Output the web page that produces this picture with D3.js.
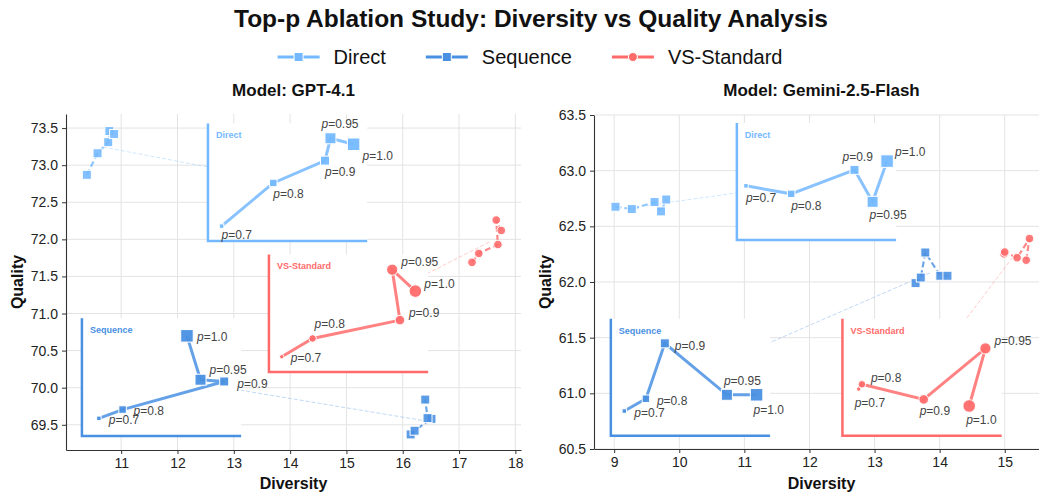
<!DOCTYPE html>
<html>
<head>
<meta charset="utf-8">
<script src="https://cdn.jsdelivr.net/npm/d3@7"></script>
<style>
body { margin: 0; background: #fff; }
text { font-family: "Liberation Sans", Arial, sans-serif; }
</style>
</head>
<body>
<div id="chart"></div>
<script>
// top-p values and their labels
var pValues = [0.7, 0.8, 0.9, 0.95, 1.0];
var pLabels = ["0.7", "0.8", "0.9", "0.95", "1.0"];

var methodNames = ["Direct", "Sequence", "VS-Standard"];
var methodColors = ["#74b9ff", "#4a90e2", "#ff6b6b"];
var methodShapes = ["square", "square", "circle"];

// GPT-4.1 (diversity, quality) per p
var gptDirectX = [10.39, 10.58, 10.77, 10.79, 10.875];
var gptDirectY = [72.87, 73.16, 73.31, 73.46, 73.42];
var gptSequenceX = [16.14, 16.21, 16.51, 16.44, 16.40];
var gptSequenceY = [69.37, 69.42, 69.58, 69.59, 69.84];
var gptVsX = [17.23, 17.35, 17.69, 17.66, 17.75];
var gptVsY = [71.69, 71.81, 71.93, 72.26, 72.12];

// Gemini-2.5-Flash
var gemDirectX = [9.02, 9.27, 9.62, 9.72, 9.80];
var gemDirectY = [62.676, 62.655, 62.718, 62.634, 62.741];
var gemSequenceX = [13.63, 13.71, 13.78, 14.01, 14.12];
var gemSequenceY = [61.99, 62.04, 62.265, 62.056, 62.056];
var gemVsX = [14.99, 15.00, 15.19, 15.38, 15.33];
var gemVsY = [62.253, 62.269, 62.218, 62.39, 62.196];

var gptXTicks = [11, 12, 13, 14, 15, 16, 17, 18];
var gptYTicks = [69.5, 70.0, 70.5, 71.0, 71.5, 72.0, 72.5, 73.0, 73.5];
var gemXTicks = [9, 10, 11, 12, 13, 14, 15];
var gemYTicks = [60.5, 61.0, 61.5, 62.0, 62.5, 63.0, 63.5];

var svg = d3.select("#chart").append("svg")
    .attr("width", 1039)
    .attr("height", 495);

// size of markers in the zoomed insets grows with p
var insetSquare = [4.5, 7.5, 9, 11, 12.5];
var insetRadius = [2.2, 3.8, 4.8, 5.6, 6.3];

var panels = [
    {
        title: "Model: GPT-4.1",
        left: 66, top: 114, width: 455, height: 336,
        xDomain: [10.02, 18.1], yDomain: [69.16, 73.69],
        xTicks: gptXTicks, yTicks: gptYTicks,
        series: [[gptDirectX, gptDirectY], [gptSequenceX, gptSequenceY], [gptVsX, gptVsY]],
        insetPos: [[0.312, 0.622], [0.035, 0.042], [0.446, 0.232]],
        labelOffsets: [
            [[0, 13], [0, 15], [0, 15], [-9, -10], [9, 16]],
            [[10, 6], [11, 5], [13, 7], [9, -6], [10, 5]],
            [[9, 5], [2, -10], [9, -3], [9, -4], [9, -3]]
        ]
    },
    {
        title: "Model: Gemini-2.5-Flash",
        left: 594, top: 115, width: 455, height: 334,
        xDomain: [8.69, 15.68], yDomain: [60.5, 63.5],
        xTicks: gemXTicks, yTicks: gemYTicks,
        series: [[gemDirectX, gemDirectY], [gemSequenceX, gemSequenceY], [gemVsX, gemVsY]],
        insetPos: [[0.314, 0.626], [0.037, 0.04], [0.546, 0.04]],
        labelOffsets: [
            [[0, 16], [0, 16], [-12, -9], [-3, 17], [8, -5]],
            [[10, 6], [11, 6], [10, 7], [-3, -10], [-3, 19]],
            [[-4, 18], [9, -2], [-4, 16], [9, -3], [-3, 18]]
        ]
    }
];

function drawMarker(g, shape, cx, cy, size, color, op) {
    if (shape === "circle") {
        g.append("circle")
            .attr("cx", cx).attr("cy", cy).attr("r", size)
            .attr("fill", color).attr("fill-opacity", op)
            .attr("stroke", "#fff").attr("stroke-width", 1);
    } else {
        g.append("rect")
            .attr("x", cx - size / 2).attr("y", cy - size / 2)
            .attr("width", size).attr("height", size)
            .attr("fill", color).attr("fill-opacity", op)
            .attr("stroke", "#fff").attr("stroke-width", 1);
    }
}

panels.forEach(function(pn) {
    var x = d3.scaleLinear().domain(pn.xDomain).range([pn.left, pn.left + pn.width]);
    var y = d3.scaleLinear().domain(pn.yDomain).range([pn.top + pn.height, pn.top]);
    var g = svg.append("g");

    // grid
    g.selectAll(".gx").data(pn.xTicks).enter().append("line")
        .attr("x1", function(d) { return x(d); }).attr("x2", function(d) { return x(d); })
        .attr("y1", pn.top).attr("y2", pn.top + pn.height)
        .attr("stroke", "#e3e3e3").attr("stroke-width", 1);
    g.selectAll(".gy").data(pn.yTicks).enter().append("line")
        .attr("x1", pn.left).attr("x2", pn.left + pn.width)
        .attr("y1", function(d) { return y(d); }).attr("y2", function(d) { return y(d); })
        .attr("stroke", "#e3e3e3").attr("stroke-width", 1);

    // axes
    var xAxis = g.append("g")
        .attr("transform", "translate(0," + (pn.top + pn.height) + ")")
        .call(d3.axisBottom(x).tickValues(pn.xTicks).tickFormat(d3.format("d")).tickSize(4).tickSizeOuter(0).tickPadding(4));
    var yAxis = g.append("g")
        .attr("transform", "translate(" + pn.left + ",0)")
        .call(d3.axisLeft(y).tickValues(pn.yTicks).tickFormat(d3.format(".1f")).tickSize(4).tickSizeOuter(0).tickPadding(4));
    [xAxis, yAxis].forEach(function(a) {
        a.select(".domain").attr("stroke", "#333").attr("stroke-width", 1.1);
        a.selectAll(".tick line").attr("stroke", "#333");
        a.selectAll(".tick text").attr("fill", "#222").style("font-size", "14px")
            .style("font-family", "'Liberation Sans', Arial, sans-serif");
    });

    g.append("text")
        .attr("x", pn.left + pn.width / 2).attr("y", 96)
        .attr("text-anchor", "middle")
        .style("font-size", "17px").style("font-weight", "bold").attr("fill", "#111")
        .text(pn.title);
    g.append("text")
        .attr("x", pn.left + pn.width / 2).attr("y", 489)
        .attr("text-anchor", "middle")
        .style("font-size", "16px").style("font-weight", "bold").attr("fill", "#111")
        .text("Diversity");
    g.append("text")
        .attr("transform", "translate(" + (pn.left - 43) + "," + (pn.top + pn.height / 2) + ") rotate(-90)")
        .attr("text-anchor", "middle")
        .style("font-size", "16px").style("font-weight", "bold").attr("fill", "#111")
        .text("Quality");

    // inset boxes in pixels
    var boxes = pn.insetPos.map(function(p) {
        var w = pn.width * 0.35, h = pn.height * 0.35;
        return { x0: pn.left + p[0] * pn.width, y0: pn.top + pn.height * (1 - p[1] - 0.35), w: w, h: h };
    });

    // connector lines from cluster to its inset
    pn.series.forEach(function(s, m) {
        var cx = d3.mean(s[0], function(v) { return x(v); });
        var cy = d3.mean(s[1], function(v) { return y(v); });
        var b = boxes[m];
        g.append("line")
            .attr("x1", cx).attr("y1", cy)
            .attr("x2", b.x0 + b.w / 2).attr("y2", b.y0 + b.h / 2)
            .attr("stroke", methodColors[m]).attr("stroke-opacity", 0.35)
            .attr("stroke-width", 1).attr("stroke-dasharray", "4,2");
    });

    // main series
    pn.series.forEach(function(s, m) {
        var pts = pValues.map(function(p, i) { return [x(s[0][i]), y(s[1][i])]; });
        g.append("path")
            .attr("d", d3.line()(pts))
            .attr("fill", "none").attr("stroke", methodColors[m])
            .attr("stroke-width", 2.2).attr("stroke-opacity", 0.8)
            .attr("stroke-dasharray", "6,3");
        pts.forEach(function(pt) {
            drawMarker(g, methodShapes[m], pt[0], pt[1], methodShapes[m] === "circle" ? 4.3 : 9, methodColors[m], 0.9);
        });
    });

    // zoomed insets
    pn.series.forEach(function(s, m) {
        var b = boxes[m];
        var ig = g.append("g");
        var ix = d3.scaleLinear()
            .domain([d3.min(s[0]) - 0.05, d3.max(s[0]) + 0.05])
            .range([b.x0, b.x0 + b.w]);
        var iy = d3.scaleLinear()
            .domain([d3.min(s[1]) - 0.1, d3.max(s[1]) + 0.1])
            .range([b.y0 + b.h, b.y0]);

        ig.append("rect")
            .attr("x", b.x0).attr("y", b.y0).attr("width", b.w).attr("height", b.h)
            .attr("fill", "#fff");

        var pts = pValues.map(function(p, i) { return [ix(s[0][i]), iy(s[1][i])]; });
        ig.append("path")
            .attr("d", d3.line()(pts))
            .attr("fill", "none").attr("stroke", methodColors[m])
            .attr("stroke-width", 3).attr("stroke-opacity", 0.85);
        pts.forEach(function(pt, i) {
            var sz = methodShapes[m] === "circle" ? insetRadius[i] : insetSquare[i];
            drawMarker(ig, methodShapes[m], pt[0], pt[1], sz, methodColors[m], 0.95);
        });

        ig.append("path")
            .attr("d", "M" + b.x0 + "," + b.y0 + "V" + (b.y0 + b.h) + "H" + (b.x0 + b.w))
            .attr("fill", "none").attr("stroke", methodColors[m]).attr("stroke-width", 2.5);
        ig.append("text")
            .attr("x", b.x0 + 8).attr("y", b.y0 + 15)
            .style("font-size", "9px").style("font-weight", "bold")
            .attr("fill", methodColors[m])
            .text(methodNames[m]);

        pts.forEach(function(pt, i) {
            var off = pn.labelOffsets[m][i];
            var t = ig.append("text")
                .attr("x", pt[0] + off[0]).attr("y", pt[1] + off[1])
                .style("font-size", "12px").attr("fill", "#444");
            t.append("tspan").style("font-style", "italic").text("p");
            t.append("tspan").text("=" + pLabels[i]);
        });
    });
});

// title
svg.append("text")
    .attr("x", 531).attr("y", 27)
    .attr("text-anchor", "middle")
    .style("font-size", "24.5px").style("font-weight", "bold").attr("fill", "#111")
    .text("Top-p Ablation Study: Diversity vs Quality Analysis");

// legend, centred under the title
var legend = svg.append("g");
var lx = 0;
methodNames.forEach(function(name, m) {
    var item = legend.append("g");
    item.append("line")
        .attr("x1", lx).attr("x2", lx + 42).attr("y1", 57).attr("y2", 57)
        .attr("stroke", methodColors[m]).attr("stroke-width", 2.8);
    drawMarker(item, methodShapes[m], lx + 21, 57, methodShapes[m] === "circle" ? 4.5 : 9, methodColors[m], 1);
    var t = item.append("text")
        .attr("x", lx + 56).attr("y", 64)
        .style("font-size", "20px").attr("fill", "#111")
        .text(name);
    lx += 56 + t.node().getComputedTextLength();
    if (m < methodNames.length - 1) lx += 40;
});
legend.attr("transform", "translate(" + (530 - lx / 2) + ",0)");
</script>
</body>
</html>
